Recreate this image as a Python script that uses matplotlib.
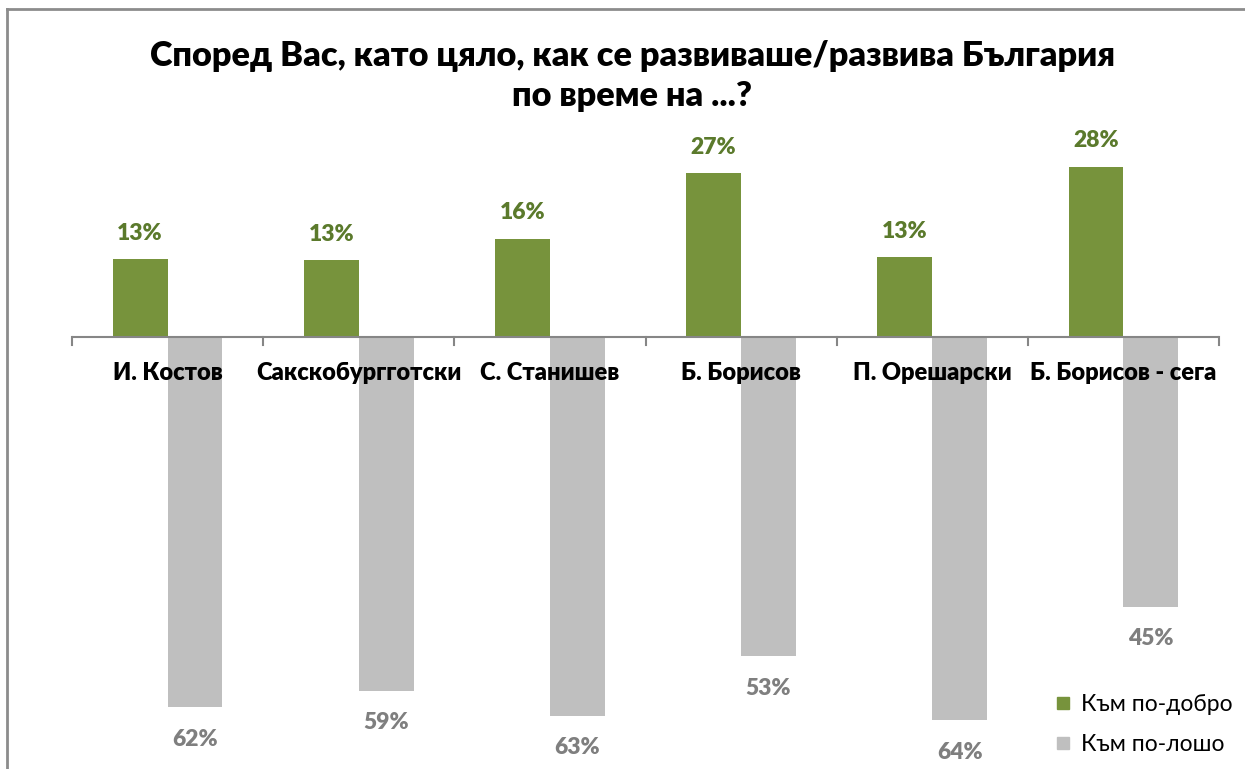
import matplotlib
matplotlib.use("Agg")
import matplotlib.pyplot as plt
from matplotlib.lines import Line2D
import numpy as np

categories = ["И. Костов", "Сакскобургготски", "С. Станишев", "Б. Борисов",
              "П. Орешарски", "Б. Борисов - сега"]
better = [13.0, 12.8, 16.4, 27.3, 13.3, 28.4]
worse = [61.7, 59.0, 63.1, 53.2, 63.9, 45.0]
series_names = ["Към по-добро", "Към по-лошо"]
title = "Според Вас, като цяло, как се развиваше/развива България\nпо време на ...?"

GREEN = "#77933C"
GREEN_TXT = "#5B7A2C"
GREY = "#BFBFBF"
GREY_TXT = "#7F7F7F"
FONT = ["Lato", "DejaVu Sans"]

plt.rcParams['font.family'] = FONT

W, H = 1245, 769
fig = plt.figure(figsize=(W / 100, H / 100), dpi=100)

ax_left, ax_right = 72, 1219
ax_top, ax_bottom = 130, 769
ax = fig.add_axes([ax_left / W, 1 - ax_bottom / H, (ax_right - ax_left) / W, (ax_bottom - ax_top) / H])

zero_px = 337
scale = 6.0
ax.set_ylim(-(ax_bottom - zero_px) / scale, (zero_px - ax_top) / scale)
n = len(categories)
ax.set_xlim(0, n)
x = np.arange(n) + 0.5
bw = 0.287

b1 = ax.bar(x - bw / 2, better, width=bw, color=GREEN, zorder=2)
b2 = ax.bar(x + bw / 2, [-v for v in worse], width=bw, color=GREY, zorder=2)

for xi, v in zip(x, better):
    ax.annotate(f"{round(v)}%", (xi - bw / 2, v), xytext=(0, 18.5), textcoords="offset points",
                ha="center", va="center", fontsize=16.5, fontweight="heavy", color=GREEN_TXT)
for xi, v in zip(x, worse):
    ax.annotate(f"{round(v)}%", (xi + bw / 2, -v), xytext=(0, -23), textcoords="offset points",
                ha="center", va="center", fontsize=16.5, fontweight="heavy", color=GREY_TXT)

for xi, c in zip(x, categories):
    ax.annotate(c, (xi, 0), xytext=(0, -26), textcoords="offset points",
                ha="center", va="center", fontsize=17, fontweight="heavy", color="black", zorder=5)

# axis line and ticks
ax.axhline(0, color="#868686", lw=1.5, zorder=3)
for t in range(n + 1):
    ax.plot([t, t], [0, -8 / scale], color="#868686", lw=1.5, zorder=3, clip_on=False)

for s in ax.spines.values():
    s.set_visible(False)
ax.set_xticks([])
ax.set_yticks([])

fig.text(632 / W, 1 - 76 / H, title, ha="center", va="center", fontsize=24.7,
         fontweight="heavy", linespacing=1.3)

# legend
handles = [Line2D([], [], marker="s", linestyle="none", markersize=8.5, color=GREEN),
           Line2D([], [], marker="s", linestyle="none", markersize=8.5, color=GREY)]
fig.legend(handles, series_names, loc="upper left", bbox_to_anchor=(1034 / W, 1 - 673 / H),
           frameon=False, fontsize=16.5, handlelength=0.7, handletextpad=0.45, labelspacing=0.85)

# chart frame
fig.add_artist(Line2D([7 / W, 7 / W], [0, 1 - 9 / H], color="#8C8C8C", lw=2, transform=fig.transFigure))
fig.add_artist(Line2D([7 / W, 1], [1 - 9 / H, 1 - 9 / H], color="#8C8C8C", lw=2, transform=fig.transFigure))

fig.savefig("out.png", dpi=100)
